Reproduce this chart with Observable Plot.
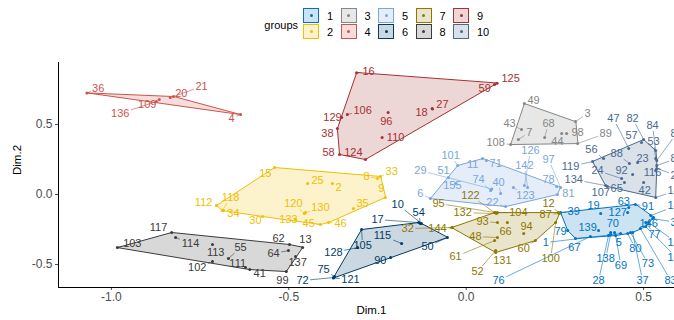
<!DOCTYPE html>
<html><head><meta charset="utf-8">
<script src="https://cdn.jsdelivr.net/npm/d3@7"></script>
<script src="https://cdn.jsdelivr.net/npm/@observablehq/plot@0.6"></script>
<style>
body{margin:0;background:#fff;font-family:"Liberation Sans",Arial,sans-serif;}
#legend{position:relative;width:674px;height:45px;}
#legend .t{position:absolute;font-size:11px;color:#000;line-height:14px;white-space:nowrap;}
#legend .k{position:absolute;width:16px;height:15px;box-sizing:border-box;border:1.3px solid;}
#legend .k span{position:absolute;left:50%;top:50%;width:3px;height:3px;margin:-1.5px 0 0 -1.5px;border-radius:50%;}
</style></head><body>
<div id="legend"></div>
<div id="chart"></div>
<script>
// ---- data (Dim.1 / Dim.2 units) ----
const groups = ["1","2","3","4","5","6","7","8","9","10"];
const colors = ["#0073C2","#EFC000","#868686","#CD534C","#7AA6DC","#003C67","#8F7700","#3B3B3B","#A73030","#4A6990"];
const xTicks = [-1, -0.5, 0, 0.5];
const yTicks = [-0.5, 0, 0.5];
const xDomain = [-1.149, 0.587];
const yDomain = [-0.664, 0.943];
// [label, Dim.1, Dim.2, label Dim.1, label Dim.2]
const g1 = [
 ["39",0.266,-0.129,0.303,-0.121],["19",0.379,-0.136,0.359,-0.080],["63",0.458,-0.093,0.444,-0.050],
 ["91",0.477,-0.071,0.512,-0.086],["127",0.455,-0.129,0.427,-0.129],["146",0.528,-0.164,0.514,-0.207],
 ["70",0.407,-0.271,0.413,-0.207],["139",0.373,-0.257,0.342,-0.236],["79",0.286,-0.257,0.266,-0.264],
 ["67",0.308,-0.314,0.305,-0.379],["1",0.435,-0.279,0.224,-0.343],["5",0.418,-0.271,0.430,-0.343],
 ["80",0.455,-0.279,0.477,-0.386],["138",0.407,-0.286,0.393,-0.457],["69",0.421,-0.293,0.436,-0.507],
 ["73",0.463,-0.271,0.512,-0.493],["28",0.401,-0.293,0.373,-0.614],["37",0.469,-0.271,0.497,-0.614],
 ["83",0.491,-0.243,0.576,-0.614],["77",0.506,-0.200,0.531,-0.286],["76",0.350,-0.300,0.091,-0.614],
 ["140",0.520,-0.150,0.593,-0.079],["31",0.525,-0.171,0.593,-0.200],["150",0.514,-0.200,0.593,-0.343],
 ["149",0.506,-0.229,0.593,-0.450]
];
const g2 = [
 ["15",-0.540,0.193,-0.566,0.150],["33",-0.242,0.129,-0.210,0.164],["8",-0.250,0.114,-0.281,0.129],
 ["9",-0.228,-0.021,-0.239,0.043],["25",-0.447,0.079,-0.419,0.100],["2",-0.377,0.079,-0.360,0.050],
 ["112",-0.704,-0.079,-0.740,-0.057],["118",-0.687,-0.114,-0.664,-0.021],["34",-0.684,-0.114,-0.656,-0.136],
 ["30",-0.574,-0.157,-0.594,-0.186],["133",-0.481,-0.179,-0.501,-0.179],["120",-0.456,-0.136,-0.487,-0.064],
 ["130",-0.453,-0.129,-0.411,-0.093],["45",-0.411,-0.214,-0.444,-0.207],["46",-0.388,-0.200,-0.354,-0.207],
 ["35",-0.318,-0.100,-0.292,-0.064]
];
const g3 = [
 ["49",0.164,0.650,0.190,0.671],["3",0.308,0.521,0.342,0.579],["98",0.283,0.436,0.314,0.443],
 ["89",0.314,0.364,0.393,0.436],["43",0.156,0.464,0.122,0.507],["7",0.147,0.393,0.178,0.443],
 ["68",0.221,0.407,0.232,0.507],["44",0.269,0.436,0.257,0.379],["108",0.125,0.357,0.083,0.371]
];
const g4 = [
 ["36",-1.069,0.726,-1.037,0.757],["109",-0.865,0.679,-0.899,0.643],["136",-0.873,0.664,-0.975,0.579],
 ["20",-0.834,0.693,-0.803,0.721],["21",-0.825,0.700,-0.746,0.771],["4",-0.636,0.571,-0.661,0.543]
];
const g5 = [
 ["6",-0.101,-0.029,-0.129,0.007],["51",-0.050,0.121,-0.064,0.171],["29",0.072,0.040,-0.129,0.171],
 ["155",-0.030,0.079,-0.039,0.064],["101",-0.024,0.207,-0.044,0.279],["11",0.046,0.257,0.018,0.214],
 ["71",0.057,0.243,0.083,0.221],["74",0.069,0.029,0.035,0.107],["40",0.097,0.007,0.091,0.086],
 ["22",0.111,-0.086,0.074,-0.057],["123",0.133,0.050,0.167,-0.007],["142",0.173,0.050,0.164,0.207],
 ["126",0.164,0.064,0.181,0.314],["78",0.255,0.057,0.232,0.107],["97",0.266,0.050,0.232,0.250],
 ["81",0.257,0.000,0.288,0.007]
];
const g6 = [
 ["17",-0.134,-0.200,-0.250,-0.179],["10",-0.126,-0.207,-0.193,-0.071],["54",-0.129,-0.207,-0.134,-0.129],
 ["105",-0.295,-0.250,-0.292,-0.364],["128",-0.306,-0.379,-0.374,-0.414],["115",-0.182,-0.350,-0.236,-0.293],
 ["50",-0.053,-0.307,-0.109,-0.371],["90",-0.213,-0.450,-0.242,-0.471],["75",-0.371,-0.586,-0.402,-0.536],
 ["72",-0.374,-0.593,-0.461,-0.614],["121",-0.374,-0.596,-0.326,-0.607]
];
const g7 = [
 ["144",-0.039,-0.236,-0.081,-0.243],["32",-0.041,-0.236,-0.165,-0.243],["95",0.083,-0.129,-0.078,-0.064],
 ["122",0.080,-0.129,0.012,-0.007],["132",0.085,-0.136,-0.010,-0.129],["104",0.088,-0.129,0.147,-0.129],
 ["12",0.260,-0.129,0.232,-0.064],["87",0.263,-0.136,0.224,-0.143],["100",0.252,-0.200,0.238,-0.457],
 ["93",0.088,-0.200,0.046,-0.193],["66",0.116,-0.200,0.111,-0.264],["94",0.162,-0.279,0.170,-0.229],
 ["48",0.088,-0.307,0.026,-0.300],["60",0.195,-0.329,0.162,-0.386],["131",0.083,-0.414,0.102,-0.471],
 ["61",0.080,-0.329,-0.030,-0.443],["52",0.083,-0.400,0.032,-0.550]
];
const g8 = [
 ["103",-0.983,-0.379,-0.941,-0.350],["117",-0.830,-0.271,-0.867,-0.236],["114",-0.819,-0.307,-0.777,-0.350],
 ["113",-0.715,-0.357,-0.706,-0.414],["55",-0.670,-0.457,-0.636,-0.379],["111",-0.622,-0.521,-0.644,-0.493],
 ["41",-0.610,-0.536,-0.582,-0.564],["102",-0.715,-0.479,-0.758,-0.521],["62",-0.498,-0.357,-0.529,-0.314],
 ["13",-0.461,-0.379,-0.453,-0.321],["64",-0.501,-0.400,-0.543,-0.421],["137",-0.481,-0.443,-0.475,-0.486],
 ["99",-0.507,-0.550,-0.518,-0.614]
];
const g9 = [
 ["16",-0.309,0.869,-0.275,0.879],["125",0.087,0.795,0.125,0.829],["59",0.080,0.786,0.052,0.757],
 ["106",-0.335,0.571,-0.292,0.600],["129",-0.351,0.550,-0.377,0.550],["38",-0.363,0.471,-0.391,0.436],
 ["58",-0.357,0.286,-0.388,0.300],["124",-0.284,0.250,-0.318,0.300],["96",-0.220,0.586,-0.225,0.521],
 ["18",-0.096,0.614,-0.126,0.586],["27",-0.095,0.611,-0.067,0.643],["110",-0.237,0.407,-0.199,0.407]
];
const g10 = [
 ["119",0.356,0.236,0.294,0.200],["56",0.387,0.257,0.353,0.321],["47",0.458,0.329,0.415,0.543],
 ["82",0.500,0.393,0.469,0.543],["57",0.494,0.371,0.466,0.421],["84",0.534,0.314,0.525,0.493],
 ["53",0.534,0.257,0.528,0.379],["88",0.460,0.221,0.424,0.293],["23",0.483,0.229,0.497,0.257],
 ["92",0.469,0.143,0.438,0.171],["116",0.534,0.171,0.525,0.157],["24",0.438,0.114,0.370,0.171],
 ["134",0.393,0.064,0.303,0.107],["65",0.446,0.086,0.424,0.043],["42",0.500,0.086,0.503,0.029],
 ["141",0.534,-0.021,0.593,0.029],["86",0.537,0.243,0.593,0.436],["85",0.537,0.207,0.593,0.257],
 ["26",0.537,0.186,0.593,0.136],["107",0.398,0.057,0.379,0.014]
];
const clusters = [g1,g2,g3,g4,g5,g6,g7,g8,g9,g10];

// ---- layout ----
const W = 674, H = 275, ML = 58, MR = 0, MT = 17, MB = 33;
const FS = 11;
const kx = (W - ML - MR) / (xDomain[1] - xDomain[0]);
const ky = (H - MT - MB) / (yDomain[1] - yDomain[0]);

const rows = [];
clusters.forEach((c, i) => c.forEach(([id, x, y, lx, ly]) => rows.push({id, x, y, lx, ly, group: groups[i]})));

// repel-style segments: from point to the edge of the label box
const segs = [];
for (const r of rows) {
  const dx = (r.lx - r.x) * kx, dy = (r.ly - r.y) * ky;
  const hw = r.id.length * 0.556 * FS / 2 + 1.5, hh = FS * 0.5;
  const t = Math.min(Math.abs(dx) > 1e-9 ? hw / Math.abs(dx) : Infinity, Math.abs(dy) > 1e-9 ? hh / Math.abs(dy) : Infinity);
  if (t >= 1) continue;
  const len = (1 - t) * Math.hypot(dx, dy);
  if (len < 4) continue;
  segs.push({x1: r.x, y1: r.y, x2: r.lx - (r.lx - r.x) * t, y2: r.ly - (r.ly - r.y) * t, group: r.group});
}

const hullMarks = clusters.map((c, i) => {
  const hull = d3.polygonHull(c.map(p => [p[1], p[2]]));
  return Plot.line(hull, {x: d => d[0], y: d => d[1], curve: "linear-closed",
    stroke: colors[i], fill: colors[i], fillOpacity: 0.2, strokeWidth: 1});
});

const chart = Plot.plot({
  width: W, height: H, marginLeft: ML, marginRight: MR, marginTop: MT, marginBottom: MB,
  style: {fontFamily: "Liberation Sans, Arial, sans-serif", fontSize: "12px", color: "#4D4D4D", background: "#fff", overflow: "hidden"},
  x: {domain: xDomain, ticks: xTicks, tickFormat: d => d.toFixed(1), tickSize: 3, tickPadding: 2, label: null},
  y: {domain: yDomain, ticks: yTicks, tickFormat: d => d.toFixed(1), tickSize: 3, tickPadding: 3, label: null},
  color: {domain: groups, range: colors},
  marks: [
    ...hullMarks,
    Plot.link(segs, {x1: "x1", y1: "y1", x2: "x2", y2: "y2", stroke: "group", strokeWidth: 0.6}),
    Plot.dot(rows, {x: "x", y: "y", fill: "group", r: 1.5}),
    Plot.text(rows, {x: "lx", y: "ly", text: "id", fill: "group", fontSize: FS}),
    Plot.ruleX([xDomain[0]], {stroke: "#000", strokeWidth: 1}),
    Plot.ruleY([yDomain[0]], {stroke: "#000", strokeWidth: 1}),
    Plot.text(["Dim.1"], {text: d => d, frameAnchor: "bottom", dx: 5, dy: 26, fontSize: 11.5, fill: "#000"}),
    Plot.text(["Dim.2"], {text: d => d, frameAnchor: "left", rotate: -90, dx: -41, fontSize: 11.5, fill: "#000"})
  ]
});
document.getElementById("chart").appendChild(chart);

// ---- legend ----
const leg = document.getElementById("legend");
const tt = document.createElement("div");
tt.className = "t"; tt.textContent = "groups";
tt.style.right = (674 - 298) + "px"; tt.style.top = "18px";
leg.appendChild(tt);
groups.forEach((g, i) => {
  const col = Math.floor(i / 2), row = i % 2;
  const left = 303 + col * 37.5, top = 8 + row * 16;
  const k = document.createElement("div");
  k.className = "k";
  k.style.left = left + "px"; k.style.top = top + "px";
  k.style.borderColor = colors[i];
  k.style.background = d3.color(colors[i]).copy({opacity: 0.2}).toString();
  const dot = document.createElement("span");
  dot.style.background = colors[i];
  k.appendChild(dot);
  leg.appendChild(k);
  const t = document.createElement("div");
  t.className = "t"; t.textContent = g;
  t.style.left = (left + 24) + "px"; t.style.top = (top + 1) + "px";
  leg.appendChild(t);
});
</script></body></html>
